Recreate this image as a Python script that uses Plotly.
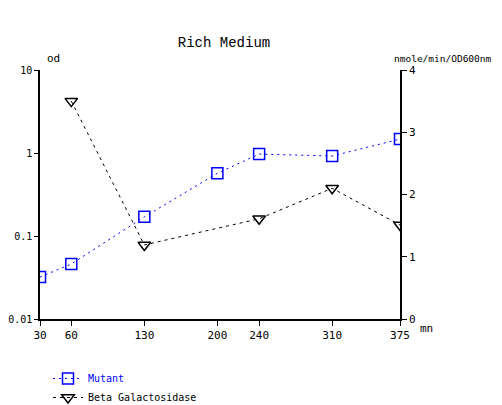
import plotly.graph_objects as go

time_mn = [30, 60, 130, 200, 240, 310, 375]
mutant_od = [0.032, 0.046, 0.17, 0.57, 0.97, 0.92, 1.47]
beta_time = [60, 130, 240, 310, 375]
beta_gal = [3.50, 1.19, 1.61, 2.10, 1.51]
x_ticks = [30, 60, 130, 200, 240, 310, 375]
left_ticks = [0.01, 0.1, 1, 10]
left_labels = ["0.01", "0.1", "1", "10"]
right_ticks = [0, 1, 2, 3, 4]

FONT = "DejaVu Sans Mono"
OFF = 8  # page body offset
W, H = 502 - OFF, 405 - OFF

fig = go.Figure()
fig.add_trace(go.Scatter(
    x=time_mn, y=mutant_od, name="<span style='color:#0000ff'>Mutant</span>",
    mode="lines+markers",
    line=dict(color="#0000ff", width=1, dash="2px,4px"),
    marker=dict(symbol="square-open", size=11, color="#0000ff", line=dict(width=1.5)),
    yaxis="y"))
fig.add_trace(go.Scatter(
    x=beta_time, y=beta_gal, name="Beta Galactosidase",
    mode="lines+markers",
    line=dict(color="#000000", width=1, dash="3px,4px"),
    marker=dict(symbol="triangle-down-open", size=11, color="#000000", line=dict(width=1.5)),
    yaxis="y2"))

axis_common = dict(showgrid=False, zeroline=False, showline=True, linecolor="black",
                   linewidth=1.5, ticks="outside", ticklen=5, tickcolor="black",
                   automargin=False,
                   tickfont=dict(family=FONT, size=11, color="black"))
yleft = dict(axis_common)
yleft["tickfont"] = dict(family=FONT, size=10, color="black")
yleft["ticklen"] = 4

fig.update_layout(
    width=W, height=H,
    margin=dict(l=40 - OFF, r=W - (400 - OFF), t=70 - OFF, b=H - (319 - OFF), autoexpand=False),
    paper_bgcolor="white", plot_bgcolor="white",
    title=dict(text="Rich Medium", xref="container", yref="container", x=(224 - OFF) / W,
               xanchor="center", y=1 - (42 - OFF) / H,
               yanchor="middle", font=dict(family="Liberation Mono", size=14, color="black")),
    xaxis=dict(range=[30, 375], tickvals=x_ticks, ticktext=[str(v) for v in x_ticks], **axis_common),
    yaxis=dict(type="log", range=[-2, 1], tickvals=left_ticks, ticktext=left_labels, **yleft),
    yaxis2=dict(overlaying="y", side="right", range=[0, 4], tickvals=right_ticks, **axis_common),
    showlegend=True,
    legend=dict(xref="container", yref="container", x=(48 - OFF) / W, y=1 - (364 - OFF) / H,
                xanchor="left", yanchor="top",
                font=dict(family=FONT, size=10, color="black"), itemwidth=30,
                tracegroupgap=2, bgcolor="rgba(0,0,0,0)"),
    annotations=[
        dict(text="od", xref="paper", yref="paper", x=(45 - 40) / 360, y=(319 - 58) / 249,
             xanchor="left", yanchor="middle", showarrow=False,
             font=dict(family=FONT, size=11, color="black")),
        dict(text="nmole/min/OD600nm", xref="paper", yref="paper", x=(494 - 40) / 360,
             y=(319 - 58) / 249, xanchor="right", yanchor="middle", showarrow=False,
             font=dict(family=FONT, size=9.5, color="black")),
        dict(text="mn", xref="paper", yref="paper", x=(418 - 40) / 360, y=(319 - 328) / 249,
             xanchor="left", yanchor="middle", showarrow=False,
             font=dict(family=FONT, size=11, color="black")),
    ],
)

fig.write_html("out.html")
